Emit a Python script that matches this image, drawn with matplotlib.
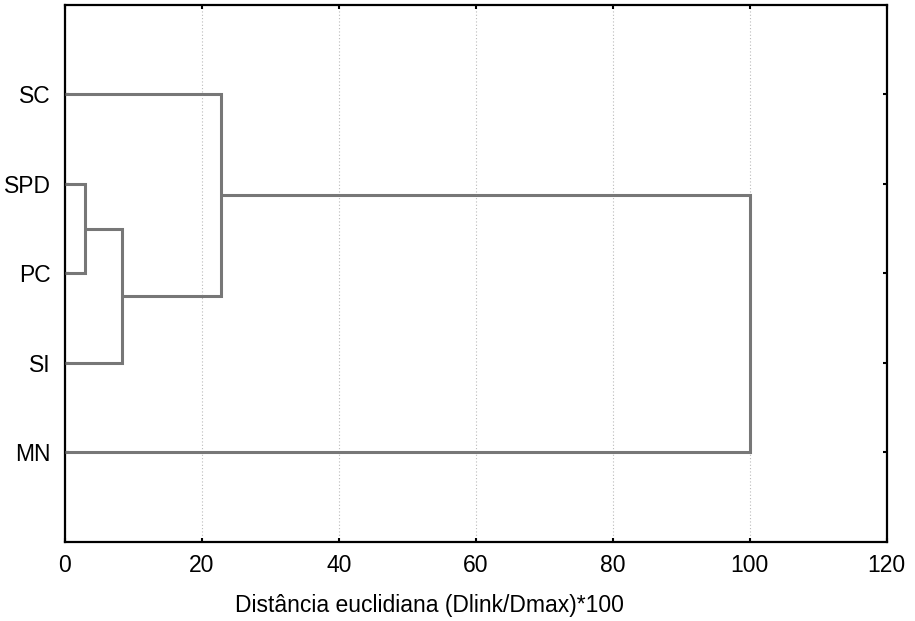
import numpy as np
import matplotlib
matplotlib.use("Agg")
import matplotlib.pyplot as plt

plt.rcParams['font.family'] = ['Liberation Sans', 'DejaVu Sans']

# leaves, top to bottom
labels = ["SC", "SPD", "PC", "SI", "MN"]
# merges: (child a, child b, linkage distance); ids >= 5 are earlier merges
merge_a = [1, 5, 0, 7]
merge_b = [2, 3, 6, 4]
merge_dist = [2.9, 8.3, 22.8, 100.0]

x_ticks = [0, 20, 40, 60, 80, 100, 120]

fig = plt.figure(figsize=(9.15, 6.21), dpi=100)
ax = fig.add_axes([0.071, 0.128, 0.898, 0.864])

# node positions: leaves sit at y = 1..n, distance 0
node_x = [0.0] * len(labels)
node_y = list(np.arange(1, len(labels) + 1, dtype=float))

line_kw = dict(color="#777777", lw=2.2, solid_capstyle="butt", solid_joinstyle="miter", zorder=3)
for a, b, d in zip(merge_a, merge_b, merge_dist):
    xa, ya = node_x[a], node_y[a]
    xb, yb = node_x[b], node_y[b]
    ax.plot([xa, d, d, xb], [ya, ya, yb, yb], **line_kw)
    node_x.append(d)
    node_y.append((ya + yb) / 2)

ax.set_xlim(0, 120)
ax.set_ylim(len(labels) + 1, 0)
ax.set_xticks(x_ticks)
ax.set_yticks(np.arange(1, len(labels) + 1))
ax.set_yticklabels(labels)

ax.xaxis.grid(True, linestyle=(0, (1, 2)), color="#bbbbbb", lw=0.8)
ax.yaxis.grid(False)
ax.set_axisbelow(True)

ax.tick_params(direction="in", length=3, width=1.5, top=True, right=True,
               labelsize=16.5, colors="black")
ax.tick_params(axis="x", pad=9)
ax.tick_params(axis="y", pad=10)
for s in ax.spines.values():
    s.set_linewidth(1.6)
    s.set_color("black")

ax.set_xlabel("Distância euclidiana (Dlink/Dmax)*100", fontsize=16.5)
ax.xaxis.set_label_coords(0.443, -0.098)

fig.savefig("out.png", dpi=100)
